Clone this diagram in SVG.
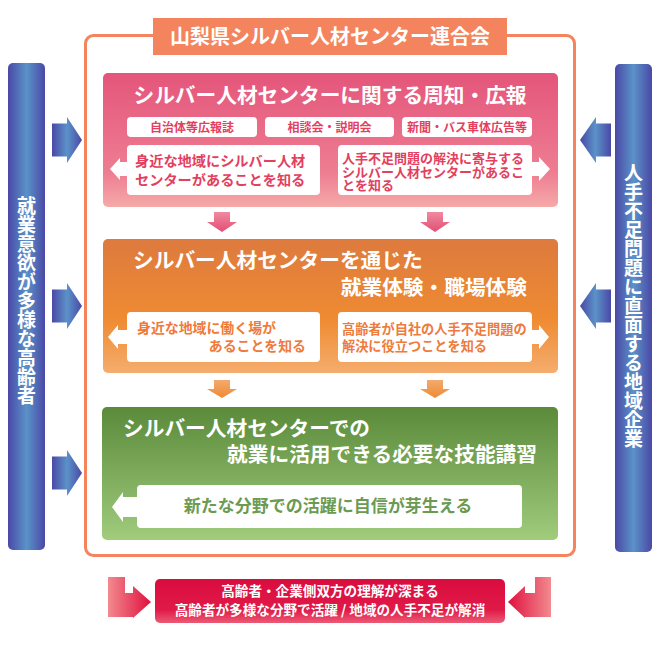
<svg xmlns="http://www.w3.org/2000/svg" width="658" height="650" viewBox="0 0 658 650">
<defs>
<linearGradient id="gBlue" x1="0" y1="0" x2="1" y2="0">
<stop offset="0" stop-color="#4a49a6"/><stop offset="0.5" stop-color="#5b92c8"/><stop offset="1" stop-color="#4a49a6"/>
</linearGradient>
<linearGradient id="gPink" x1="0" y1="0" x2="0" y2="1">
<stop offset="0" stop-color="#e4557b"/><stop offset="0.75" stop-color="#ee7e92"/><stop offset="1" stop-color="#f5aaa8"/>
</linearGradient>
<linearGradient id="gOrange" x1="0" y1="0" x2="0" y2="1">
<stop offset="0" stop-color="#dd7a3e"/><stop offset="0.6" stop-color="#ef8b32"/><stop offset="1" stop-color="#f5ad6e"/>
</linearGradient>
<linearGradient id="gGreen" x1="0" y1="0" x2="0" y2="1">
<stop offset="0" stop-color="#5a8a3a"/><stop offset="1" stop-color="#a0cc7c"/>
</linearGradient>
<linearGradient id="gRed" x1="0" y1="0" x2="0" y2="1">
<stop offset="0" stop-color="#d90c3e"/><stop offset="0.7" stop-color="#e01a48"/><stop offset="1" stop-color="#ec5a74"/>
</linearGradient>
<linearGradient id="gPinkArr" x1="0" y1="0" x2="0" y2="1">
<stop offset="0" stop-color="#f08aa0"/><stop offset="1" stop-color="#e24e74"/>
</linearGradient>
<linearGradient id="gOrArr" x1="0" y1="0" x2="0" y2="1">
<stop offset="0" stop-color="#f3aa6c"/><stop offset="1" stop-color="#ee8a36"/>
</linearGradient>
<linearGradient id="gRedL" x1="0" y1="0" x2="1" y2="0">
<stop offset="0" stop-color="#f28a8e"/><stop offset="1" stop-color="#e0103f"/>
</linearGradient>
<linearGradient id="gRedR" x1="1" y1="0" x2="0" y2="0">
<stop offset="0" stop-color="#f28a8e"/><stop offset="1" stop-color="#e0103f"/>
</linearGradient>
<style>
text{font-family:"Noto Sans CJK JP","Noto Sans",sans-serif;font-weight:bold}
.w{fill:#ffffff}
.head{font-size:20.7px;fill:#ffffff}
.lab{fill:#ffffff}
.pk{fill:#e3405e}
.or{fill:#ee7a3c}
.gr{fill:#6b9a52}
.bar{fill:url(#gBlue)}
.vt{writing-mode:vertical-rl;font-size:19px;fill:#ffffff}
</style>
</defs>

<g id="frame">
<rect x="85.5" y="35.5" width="489" height="520" rx="8" fill="#ffffff" stroke="#f4845e" stroke-width="3"/>
</g>

<g id="title">
<rect x="153" y="18" width="354" height="37" fill="#f4845e"/>
<text x="330" y="44" text-anchor="middle" font-size="20" class="w">山梨県シルバー人材センター連合会</text>
</g>

<g id="left-bar">
<rect x="8" y="63" width="37" height="487" rx="5" class="bar"/>
<text x="26.5" y="301" text-anchor="middle" class="vt">就業意欲が多様な高齢者</text>
</g>

<g id="right-bar">
<rect x="615" y="64" width="37" height="488" rx="5" class="bar"/>
<text x="633.5" y="306" text-anchor="middle" class="vt">人手不足問題に直面する地域企業</text>
</g>

<g id="pink-section">
<rect x="103" y="73" width="455" height="134" rx="5" fill="url(#gPink)"/>
<text x="330" y="103" text-anchor="middle" class="head">シルバー人材センターに関する周知・広報</text>
<rect x="127" y="117" width="130" height="20" rx="4" class="lab"/>
<rect x="265" y="117" width="129" height="20" rx="4" class="lab"/>
<rect x="402" y="117" width="130" height="20" rx="4" class="lab"/>
<text x="192" y="132" text-anchor="middle" font-size="12" class="pk">自治体等広報誌</text>
<text x="329.5" y="132" text-anchor="middle" font-size="12" class="pk">相談会・説明会</text>
<text x="467" y="132" text-anchor="middle" font-size="12" class="pk">新聞・バス車体広告等</text>
<rect x="127" y="145" width="193" height="50" rx="4" class="lab"/>
<polygon points="128,162 120,162 120,158 110,169 120,180 120,176 128,176" class="lab"/>
<text x="135" y="166" font-size="14.2" class="pk">身近な地域にシルバー人材</text>
<text x="135" y="185" font-size="14.2" class="pk">センターがあることを知る</text>
<rect x="338" y="145" width="194" height="50" rx="4" class="lab"/>
<polygon points="531,162 539,162 539,157 550,169 539,181 539,176 531,176" class="lab"/>
<text x="342" y="163" font-size="13" class="pk">人手不足問題の解決に寄与する</text>
<text x="342" y="176.5" font-size="13" class="pk">シルバー人材センターがあるこ</text>
<text x="342" y="190" font-size="13" class="pk">とを知る</text>
</g>

<g id="orange-section">
<rect x="103" y="239" width="455" height="134" rx="5" fill="url(#gOrange)"/>
<text x="133" y="268" class="head">シルバー人材センターを通じた</text>
<text x="527" y="295" text-anchor="end" class="head">就業体験・職場体験</text>
<rect x="127" y="312" width="193" height="50" rx="4" class="lab"/>
<polygon points="128,330 118,330 118,325 108,337 118,349 118,344 128,344" class="lab"/>
<text x="137" y="333" font-size="13.9" class="or">身近な地域に働く場が</text>
<text x="306" y="351" text-anchor="end" font-size="13.9" class="or">あることを知る</text>
<rect x="338" y="312" width="194" height="50" rx="4" class="lab"/>
<polygon points="531,330 539,330 539,325 549,337 539,349 539,344 531,344" class="lab"/>
<text x="342" y="333.5" font-size="13.2" class="or">高齢者が自社の人手不足問題の</text>
<text x="342" y="350.5" font-size="13.2" class="or">解決に役立つことを知る</text>
</g>

<g id="green-section">
<rect x="102" y="407" width="456" height="133" rx="5" fill="url(#gGreen)"/>
<text x="123" y="436" class="head">シルバー人材センターでの</text>
<text x="537" y="462" text-anchor="end" class="head">就業に活用できる必要な技能講習</text>
<rect x="137" y="485" width="385" height="43" rx="4" class="lab"/>
<polygon points="138,497 123,497 123,492 112,507 123,522 123,517 138,517" class="lab"/>
<text x="328" y="512" text-anchor="middle" font-size="17" class="gr">新たな分野での活躍に自信が芽生える</text>
</g>

<g id="result">
<rect x="155" y="579" width="350" height="44" rx="5" fill="url(#gRed)"/>
<text x="330" y="596" text-anchor="middle" font-size="13.6" class="w">高齢者・企業側双方の理解が深まる</text>
<text x="330" y="615" text-anchor="middle" font-size="13.6" class="w">高齢者が多様な分野で活躍 / 地域の人手不足が解消</text>
</g>

<g id="connectors">
<polygon points="52,123.5 67,123.5 67,117 82,140 67,163 67,156.5 52,156.5" class="bar"/>
<polygon points="52,289.5 67,289.5 67,283 82,306 67,329 67,322.5 52,322.5" class="bar"/>
<polygon points="52,456.5 67,456.5 67,450 82,473 67,496 67,489.5 52,489.5" class="bar"/>
<polygon points="611,123.5 596,123.5 596,117 580,140 596,163 596,156.5 611,156.5" class="bar"/>
<polygon points="611,289.5 596,289.5 596,283 580,306 596,329 596,322.5 611,322.5" class="bar"/>
<polygon points="214,212 230,212 230,222 237,222 222,232 207,222 214,222" fill="url(#gPinkArr)"/>
<polygon points="427,212 443,212 443,222 450,222 435,232 420,222 427,222" fill="url(#gPinkArr)"/>
<polygon points="214,380 230,380 230,389 237,389 222,398 207,389 214,389" fill="url(#gOrArr)"/>
<polygon points="427,380 443,380 443,389 450,389 435,398 420,389 427,389" fill="url(#gOrArr)"/>
<polygon points="108,577 125,577 125,593 133,593 133,586 151,602 133,618 133,617 108,617" fill="url(#gRedL)"/>
<polygon points="551,577 535,577 535,593 525,593 525,586 508,602 525,618 525,617 551,617" fill="url(#gRedR)"/>
</g>
</svg>
